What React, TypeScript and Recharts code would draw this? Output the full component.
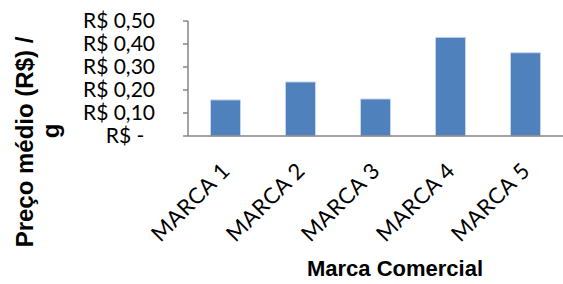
import { BarChart, Bar, XAxis, YAxis, Label } from 'recharts';

const brands = ['MARCA 1', 'MARCA 2', 'MARCA 3', 'MARCA 4', 'MARCA 5'];
const prices = [0.157, 0.235, 0.161, 0.429, 0.362];
const yTicks = [0, 0.1, 0.2, 0.3, 0.4, 0.5];

const data = brands.map((brand, i) => ({ brand, price: prices[i] }));

const formatReal = (v: number) =>
  v === 0 ? 'R$ -\u00a0\u00a0' : `R$ ${v.toFixed(2).replace('.', ',')}`;

function BrandTick(props: any) {
  const { x, y, payload } = props;
  return (
    <text
      x={x + 6}
      y={y + 34}
      transform={`rotate(-45, ${x + 6}, ${y + 34})`}
      textAnchor="end"
      fill="#000"
      fontFamily="Lato"
      fontSize={22}
      letterSpacing={0.6}
    >
      {payload.value}
    </text>
  );
}

function YTitle() {
  return (
    <g fontFamily="'Liberation Sans', Arial" fontWeight="bold" fontSize={24} fill="#000" textAnchor="middle">
      <text x={33} y={142} transform="rotate(-90, 33, 142)">Preço médio (R$) /</text>
      <text x={59} y={131} transform="rotate(-90, 59, 131)">g</text>
    </g>
  );
}

function XTitle() {
  return (
    <text
      x={395}
      y={276}
      textAnchor="middle"
      fontFamily="'Liberation Sans', Arial"
      fontWeight="bold"
      fontSize={22}
      fill="#000"
    >
      Marca Comercial
    </text>
  );
}

export default function App() {
  return (
    <div style={{ position: 'absolute', left: 0, top: 0, width: 563, height: 284, background: '#fff' }}>
      <BarChart width={563} height={284} data={data} margin={{ top: 21, right: 0, bottom: 0, left: 0 }} barCategoryGap="30%">
        <XAxis
          dataKey="brand"
          height={148}
          interval={0}
          tick={<BrandTick />}
          tickLine={false}
          tickSize={0}
          axisLine={{ stroke: '#868686', strokeWidth: 1.5 }}
        >
          <Label content={<XTitle />} />
        </XAxis>
        <YAxis
          width={188}
          domain={[0, 0.5]}
          ticks={yTicks}
          interval={0}
          tickFormatter={formatReal}
          tick={{ fill: '#000', fontSize: 21, fontFamily: 'Lato' }}
          tickSize={5}
          tickMargin={28}
          tickLine={{ stroke: '#868686', strokeWidth: 1.5 }}
          axisLine={{ stroke: '#868686', strokeWidth: 1.5 }}
        >
          <Label content={<YTitle />} />
        </YAxis>
        <Bar dataKey="price" fill="#4F81BD" stroke="#c6d6ea" strokeWidth={1} isAnimationActive={false} />
      </BarChart>
    </div>
  );
}
